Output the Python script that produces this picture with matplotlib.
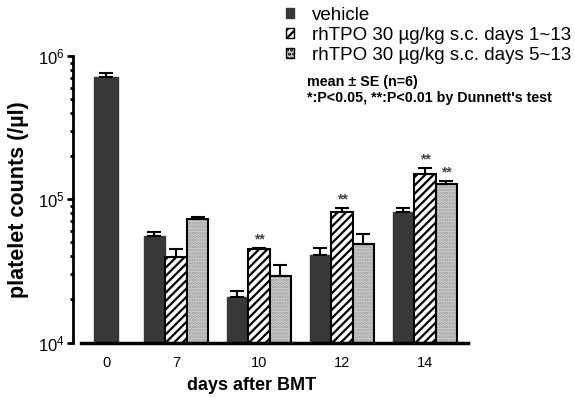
import matplotlib
matplotlib.use("Agg")
import matplotlib.pyplot as plt
from matplotlib.patches import Patch
from matplotlib.ticker import FixedLocator, LogLocator, NullFormatter

plt.rcParams['font.family'] = ['Liberation Sans', 'DejaVu Sans']
plt.rcParams['hatch.linewidth'] = 1.6

# platelet counts (/ul), mean and SE per group
days = ['0', '7', '10', '12', '14']
vehicle = [712000, 55500, 20700, 40800, 81700]
vehicle_se = [48000, 3600, 2100, 4900, 5400]
tpo_1_13 = [None, 39500, 45000, 81700, 151000]
tpo_1_13_se = [None, 5500, 1000, 5400, 15000]
tpo_5_13 = [None, 73000, 29000, 48700, 128000]
tpo_5_13_se = [None, 2400, 5700, 8600, 7000]
stars_1_13 = ['', '', '**', '**', '**']
stars_5_13 = ['', '', '', '', '**']

labels = ['vehicle',
          'rhTPO 30 \u00b5g/kg s.c. days 1~13',
          'rhTPO 30 \u00b5g/kg s.c. days 5~13']

# group centres (day 0 only has the vehicle bar)
centres = [0.16, 1, 2, 3, 4]
w = 0.26

dark = '#383838'
stipple = '#d6d6d6'

fig = plt.figure(figsize=(5.75, 3.98), dpi=100)
ax = fig.add_axes([0.127, 0.1394, 0.687, 0.7198])
ax.set_yscale('log')

err_kw = dict(fmt='none', ecolor='black', elinewidth=1.5, capsize=4.7, capthick=1.5)

for i, c in enumerate(centres):
    if tpo_1_13[i] is None:
        xs = [c]
        bw = 0.29
    else:
        xs = [c - w, c, c + w]
        bw = w
    # vehicle
    ax.bar(xs[0], vehicle[i] - 1e4, bottom=1e4, width=bw, color=dark,
           edgecolor=dark, linewidth=1, zorder=2)
    ax.errorbar(xs[0], vehicle[i], yerr=[[0], [vehicle_se[i]]], **err_kw)
    if tpo_1_13[i] is None:
        continue
    # days 1~13: diagonal hatch
    ax.bar(xs[1], tpo_1_13[i] - 1e4, bottom=1e4, width=w, color='white',
           edgecolor='black', hatch='////', linewidth=1.5, zorder=2)
    ax.errorbar(xs[1], tpo_1_13[i], yerr=[[0], [tpo_1_13_se[i]]], **err_kw)
    # days 5~13: stippled grey
    ax.bar(xs[2], tpo_5_13[i] - 1e4, bottom=1e4, width=w, color=stipple,
           edgecolor='#9a9a9a', hatch='.....', linewidth=0, zorder=2)
    ax.bar(xs[2], tpo_5_13[i] - 1e4, bottom=1e4, width=w, fill=False,
           edgecolor='black', linewidth=1.5, zorder=3)
    ax.errorbar(xs[2], tpo_5_13[i], yerr=[[0], [tpo_5_13_se[i]]], **err_kw)

    for x, v, se, s in [(xs[1], tpo_1_13[i], tpo_1_13_se[i], stars_1_13[i]),
                        (xs[2], tpo_5_13[i], tpo_5_13_se[i], stars_5_13[i])]:
        if s:
            ax.annotate(s, (x, v + se), xytext=(0, 1), textcoords='offset points',
                        ha='center', va='bottom', fontsize=10, fontweight='bold',
                        color='#444444')

ax.set_xlim(-0.24, 4.52)
ax.set_ylim(1e4, 1e6)

for s in ['top', 'right']:
    ax.spines[s].set_visible(False)
ax.spines['left'].set_linewidth(2)
ax.spines['bottom'].set_linewidth(2.5)
ax.spines['bottom'].set_bounds(-0.145, 4.52)

ax.set_xticks(centres)
ax.set_xticklabels(days, fontsize=10.5)
ax.tick_params(axis='x', length=0, pad=10)

ax.yaxis.set_major_locator(FixedLocator([1e4, 1e5, 1e6]))
ax.yaxis.set_minor_locator(LogLocator(base=10, subs=range(2, 10)))
ax.yaxis.set_minor_formatter(NullFormatter())
ax.set_yticklabels([r'$\mathregular{10^{4}}$', r'$\mathregular{10^{5}}$',
                    r'$\mathregular{10^{6}}$'], fontsize=12)
ax.tick_params(axis='y', which='major', length=4, width=2, pad=2)
ax.tick_params(axis='y', which='minor', length=2.5, width=2)

ax.set_xlabel('days after BMT', fontsize=13, fontweight='bold')
ax.xaxis.set_label_coords(0.453, -0.12)
ax.set_ylabel('platelet counts (/\u00b5l)', fontsize=15.5, fontweight='bold')
ax.yaxis.set_label_coords(-0.111, 0.5)

handles = [Patch(facecolor=dark, edgecolor=dark),
           Patch(facecolor='white', edgecolor='black', hatch='////'),
           Patch(facecolor=stipple, edgecolor='black', hatch='....')]
fig.legend(handles, labels, loc='upper left', bbox_to_anchor=(0.468, 1.025),
           frameon=False, fontsize=13.5, handlelength=0.42, handleheight=0.42,
           handletextpad=0.95, labelspacing=0.16)

fig.text(0.534, 0.793, 'mean \u00b1 SE (n=6)', fontsize=10.3, fontweight='bold',
         va='center')
fig.text(0.534, 0.755, "*:P<0.05, **:P<0.01 by Dunnett's test", fontsize=10.3,
         fontweight='bold', va='center')

fig.savefig('out.png', dpi=100)
